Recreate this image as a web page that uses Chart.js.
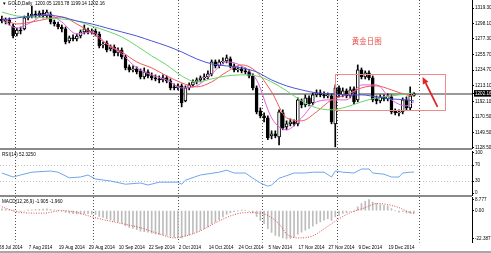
<!DOCTYPE html>
<html><head><meta charset="utf-8">
<script src="https://cdn.jsdelivr.net/npm/chart.js@4.4.1/dist/chart.umd.min.js"></script>
<style>
html,body{margin:0;padding:0;background:#fff;width:491px;height:253px;overflow:hidden;position:relative;font-family:"Liberation Sans",Arial,sans-serif;}
canvas{position:absolute;left:0;}
.sep{position:absolute;left:0;width:472px;background:#8a8a8a;z-index:5}
.hdr{position:absolute;font-size:4.6px;color:#000;white-space:pre;z-index:6;line-height:1;}
</style></head><body>
<canvas id="cMain" width="491" height="152" style="top:0px"></canvas>
<canvas id="cRsi" width="491" height="52" style="top:146px"></canvas>
<canvas id="cMacd" width="491" height="60" style="top:193px"></canvas>
<div class="sep" style="top:148px;height:2px"></div>
<div class="sep" style="top:195px;height:2px"></div>
<div style="position:absolute;left:0;top:251px;width:491px;height:2px;background:#a8a8a8"></div>
<div class="hdr" id="hMain" style="left:2px;top:2px"></div>
<div class="hdr" id="hRsi" style="left:2px;top:153px"></div>
<div class="hdr" id="hMacd" style="left:2px;top:200px"></div>
<script>
// ---------- DATA ----------
const dates = ['28 Jul 2014','29 Jul 2014','30 Jul 2014','31 Jul 2014',
'1 Aug 2014','4 Aug 2014','5 Aug 2014','6 Aug 2014','7 Aug 2014','8 Aug 2014',
'11 Aug 2014','12 Aug 2014','13 Aug 2014','14 Aug 2014','15 Aug 2014',
'18 Aug 2014','19 Aug 2014','20 Aug 2014','21 Aug 2014','22 Aug 2014',
'25 Aug 2014','26 Aug 2014','27 Aug 2014','28 Aug 2014','29 Aug 2014',
'1 Sep 2014','2 Sep 2014','3 Sep 2014','4 Sep 2014','5 Sep 2014',
'8 Sep 2014','9 Sep 2014','10 Sep 2014','11 Sep 2014','12 Sep 2014',
'15 Sep 2014','16 Sep 2014','17 Sep 2014','18 Sep 2014','19 Sep 2014',
'22 Sep 2014','23 Sep 2014','24 Sep 2014','25 Sep 2014','26 Sep 2014',
'29 Sep 2014','30 Sep 2014',
'1 Oct 2014','2 Oct 2014','3 Oct 2014',
'6 Oct 2014','7 Oct 2014','8 Oct 2014','9 Oct 2014','10 Oct 2014',
'13 Oct 2014','14 Oct 2014','15 Oct 2014','16 Oct 2014','17 Oct 2014',
'20 Oct 2014','21 Oct 2014','22 Oct 2014','23 Oct 2014','24 Oct 2014',
'27 Oct 2014','28 Oct 2014','29 Oct 2014','30 Oct 2014','31 Oct 2014',
'3 Nov 2014','4 Nov 2014','5 Nov 2014','6 Nov 2014','7 Nov 2014',
'10 Nov 2014','11 Nov 2014','12 Nov 2014','13 Nov 2014','14 Nov 2014',
'17 Nov 2014','18 Nov 2014','19 Nov 2014','20 Nov 2014','21 Nov 2014',
'24 Nov 2014','25 Nov 2014','26 Nov 2014','27 Nov 2014','28 Nov 2014',
'1 Dec 2014','2 Dec 2014','3 Dec 2014','4 Dec 2014','5 Dec 2014',
'8 Dec 2014','9 Dec 2014','10 Dec 2014','11 Dec 2014','12 Dec 2014',
'15 Dec 2014','16 Dec 2014','17 Dec 2014','18 Dec 2014','19 Dec 2014',
'22 Dec 2014','23 Dec 2014','24 Dec 2014','26 Dec 2014','29 Dec 2014','30 Dec 2014'];

const open = [1304.4,1301.7,1303.0,1294.8,1283.9,1289.4,1290.8,1305.8,1308.5,1311.2,
1309.8,1312.6,1308.5,1311.2,1300.3,1297.6,1293.5,1290.8,1274.4,1278.5,
1277.1,1281.2,1286.7,1289.4,1286.7,1288.0,1283.9,1269.0,1271.7,1263.5,
1266.2,1258.0,1262.1,1252.6,1239.0,1234.9,1236.2,1233.5,1225.3,1232.1,
1226.7,1224.0,1222.6,1221.2,1224.0,1219.9,1211.7,1210.3,1213.1,1192.6,
1210.3,1214.4,1218.5,1221.2,1224.0,1225.3,1229.4,1245.8,1240.3,1245.8,
1247.1,1249.9,1240.3,1234.9,1236.2,1233.5,1232.1,1226.7,1210.3,1179.0,
1172.2,1169.4,1144.9,1147.6,1143.5,1176.3,1157.2,1161.3,1164.0,1161.3,
1192.6,1187.2,1196.7,1189.9,1200.8,1203.5,1200.8,1199.4,1199.4,1161.3,
1210.3,1200.8,1206.3,1199.4,1209.0,1194.0,1234.9,1225.3,1230.8,1224.0,
1195.3,1192.6,1198.1,1195.3,1198.1,1179.0,1176.3,1177.6,1194.0,1183.1,1200.05];
const high = [1308.5,1305.8,1305.8,1297.6,1292.1,1293.5,1308.5,1312.6,1322.1,1315.3,
1315.3,1316.6,1316.6,1313.9,1303.0,1300.3,1296.2,1293.5,1281.2,1282.6,
1283.9,1289.4,1296.2,1292.1,1290.8,1290.8,1286.7,1273.0,1274.4,1269.0,
1269.0,1264.9,1264.9,1255.3,1241.7,1240.3,1239.0,1236.2,1237.6,1234.9,
1230.8,1228.1,1226.7,1228.1,1226.7,1222.6,1215.8,1215.8,1215.8,1213.1,
1217.2,1221.2,1224.0,1226.7,1229.4,1233.5,1248.5,1248.5,1248.5,1251.2,
1255.3,1252.6,1243.1,1239.0,1239.0,1237.6,1234.9,1229.4,1213.1,1183.1,
1176.3,1172.2,1151.7,1151.7,1180.4,1180.4,1165.4,1168.1,1166.7,1196.7,
1195.3,1200.8,1199.4,1203.5,1207.6,1207.6,1204.9,1203.5,1202.2,1214.4,
1213.1,1210.3,1209.0,1211.7,1211.7,1241.7,1237.6,1233.5,1233.5,1226.7,
1199.4,1200.8,1200.8,1202.2,1200.8,1181.7,1180.4,1196.7,1198.1,1211.7,1203.78];
const low = [1298.9,1297.6,1296.2,1278.5,1281.2,1283.9,1289.4,1303.0,1305.8,1305.8,
1307.1,1305.8,1305.8,1297.6,1294.8,1290.8,1286.7,1270.3,1271.7,1274.4,
1274.4,1278.5,1283.9,1283.9,1283.9,1281.2,1264.9,1264.9,1259.4,1260.8,
1254.0,1254.0,1249.9,1234.9,1232.1,1232.1,1229.4,1222.6,1222.6,1224.0,
1221.2,1219.9,1217.2,1218.5,1217.2,1207.6,1207.6,1207.6,1184.4,1191.3,
1207.6,1211.7,1215.8,1218.5,1221.2,1222.6,1226.7,1237.6,1237.6,1243.1,
1244.4,1237.6,1232.1,1232.1,1230.8,1229.4,1224.0,1207.6,1174.9,1169.4,
1164.0,1139.5,1140.8,1142.2,1132.6,1153.1,1153.1,1158.5,1158.5,1158.5,
1183.1,1184.4,1185.8,1187.2,1198.1,1198.1,1196.7,1196.7,1161.3,1129.9,
1198.1,1198.1,1196.7,1196.7,1188.5,1191.3,1222.6,1222.6,1221.2,1191.3,
1188.5,1189.9,1192.6,1192.6,1174.9,1173.5,1172.2,1174.9,1180.4,1180.4,1199.14];
const close = [1301.7,1303.0,1298.9,1281.2,1289.4,1288.0,1305.8,1308.5,1311.2,1309.8,
1312.6,1308.5,1313.9,1300.3,1297.6,1293.5,1290.8,1273.0,1278.5,1277.1,
1281.2,1286.7,1290.8,1286.7,1288.0,1283.9,1267.6,1270.3,1262.1,1266.2,
1258.0,1262.1,1252.6,1237.6,1234.9,1236.2,1232.1,1225.3,1232.1,1226.7,
1224.0,1222.6,1221.2,1224.0,1219.9,1210.3,1210.3,1213.1,1189.9,1210.3,
1214.4,1218.5,1221.2,1224.0,1225.3,1229.4,1245.8,1240.3,1245.8,1247.1,
1251.2,1240.3,1234.9,1236.2,1233.5,1232.1,1226.7,1210.3,1177.6,1172.2,
1169.4,1142.2,1147.6,1144.9,1177.6,1155.8,1161.3,1164.0,1161.3,1194.0,
1187.2,1196.7,1188.5,1200.8,1203.5,1200.8,1199.4,1200.8,1164.0,1210.3,
1200.8,1206.3,1199.4,1207.6,1191.3,1234.9,1225.3,1230.8,1224.0,1194.0,
1192.6,1198.1,1195.3,1199.4,1177.6,1176.3,1177.6,1194.0,1183.1,1199.4,1202.16];

// moving averages read at every 4th bar
const maIdx = [0,4,8,12,16,20,24,28,32,36,40,44,48,52,56,60,64,68,72,76,80,84,88,92,96,100,104,108,110];
const maBlue = [1303.0,1305.8,1308.5,1309.8,1307.1,1301.7,1297.6,1292.1,1286.7,1281.2,1274.4,1267.6,1259.4,1249.9,1243.1,1240.3,1237.6,1232.1,1221.2,1213.1,1207.6,1203.5,1202.2,1200.8,1200.8,1198.1,1195.3,1194.0,1192.6];
const maGreen = [1313.9,1308.5,1307.1,1305.8,1304.4,1301.7,1294.8,1288.0,1279.9,1267.6,1254.0,1241.7,1226.7,1218.5,1222.6,1226.7,1228.1,1226.7,1218.5,1206.3,1192.6,1183.1,1180.4,1184.4,1191.3,1196.7,1199.4,1202.2,1203.5];
const maRed = [1305.8,1297.6,1300.3,1304.4,1307.1,1297.6,1285.3,1270.3,1259.4,1245.8,1237.6,1226.7,1217.2,1211.7,1218.5,1232.1,1241.7,1232.1,1204.9,1169.4,1165.4,1177.6,1194.0,1200.8,1210.3,1213.1,1207.6,1200.8,1199.4];
const maMagenta = [1303.0,1292.1,1300.3,1311.2,1300.3,1283.9,1286.7,1270.3,1256.7,1237.6,1228.1,1221.2,1210.3,1213.1,1229.4,1245.8,1240.3,1221.2,1169.4,1153.1,1169.4,1191.3,1194.0,1194.0,1214.4,1214.4,1194.0,1185.8,1191.3];

// RSI(14)
const rsiIdx = [0,3,5,8,13,15,18,21,23,25,29,33,37,39,42,47,48,49,53,58,60,62,65,67,69,71,72,74,75,78,81,83,86,88,89,91,94,96,98,99,102,104,106,107,109,110];
const rsiVal = [50,40,45,52,55,52,38,40,45,35,30,22,25,20,27,27,22,32,45,52,57,50,50,37,25,17,20,37,40,50,50,52,52,40,55,52,50,60,60,50,47,40,40,50,52,52.325];

// MACD(12,26,9) main per bar + signal
const macd = [1.5,1.2,0.8,0.2,-0.6,-0.8,-0.3,0.2,0.6,0.9,
1.1,1.2,1.4,1.0,0.6,0.1,-0.4,-1.5,-2.0,-2.4,
-2.6,-2.5,-2.3,-2.4,-2.8,-3.2,-4.5,-5.4,-6.6,-7.3,
-8.4,-9.0,-10.0,-11.8,-13.2,-14.1,-15.0,-16.2,-16.6,-17.1,
-17.8,-18.4,-18.9,-19.2,-19.6,-20.4,-21.0,-21.2,-21.6,-20.2,
-19.2,-18.0,-16.8,-15.5,-14.2,-12.8,-10.6,-9.0,-7.2,-5.0,
-3.0,-1.8,-0.8,-0.2,0.2,0.0,-0.4,-1.6,-4.6,-7.8,
-10.4,-14.2,-17.2,-19.6,-20.4,-21.6,-22.387,-21.9,-21.0,-18.6,
-17.0,-15.4,-14.0,-12.2,-10.6,-9.0,-7.6,-6.4,-7.8,-5.0,
-3.8,-2.2,-1.6,-0.4,-0.8,3.0,5.6,7.4,8.777,6.8,
5.6,4.8,4.2,3.8,1.6,0.0,-1.2,-0.9,-1.8,-2.0,-1.905];
const signalIdx = [0,5,11,16,19,23,26,31,37,42,46,49,53,57,62,65,69,74,76,79,83,86,90,93,97,100,103,106,109,110];
const signalVal = [3.0,-1.5,-2.0,0.0,-0.8,-4.0,-6.4,-9.6,-13.6,-18.4,-21.6,-20.0,-16.0,-9.6,-3.2,-1.6,-2.0,-10.4,-18.4,-21.6,-20.0,-14.4,-6.4,-1.6,2.4,5.6,4.8,2.4,-1.6,-1.96];

// axis tick labels
const tickLabels = ['28 Jul 2014','7 Aug 2014','19 Aug 2014','29 Aug 2014','10 Sep 2014','22 Sep 2014','2 Oct 2014','14 Oct 2014','24 Oct 2014','5 Nov 2014','17 Nov 2014','27 Nov 2014','9 Dec 2014','19 Dec 2014'];
const priceTicks = [1319.30,1298.10,1277.30,1255.70,1234.70,1213.10,1192.10,1170.50,1149.50,1128.50];
const rsiTicks = [100,70,30,0];
const rsiLevels = [70,30];
const macdTicks = [8.777,0,-22.387];
const macdTickLabels = ['8.777','0.00','-22.387'];
// vertical grid positions (bar index units) and annotation (data units)
const gridIdx = [3.49,24.37,46.96,69.49,89.36,111.31];
const annoBox = [88.8,118.2,1229.4,1180.4];
const annoText = ['黄金日图',97.4,1274.4];
const annoArrow = [116.3,1184.4,112.3,1225.3];

// ---------- CHART ----------
const FONT = '"Liberation Sans", Arial, sans-serif';
const N = dates.length;
const lastClose = close[N-1];
const labels = dates.concat(Array.from({length:15},(_,i)=>' '.repeat(i+1)));

document.getElementById('hMain').textContent = '\u25BC GOLD,Daily  ' + open[N-1].toFixed(2)+' '+high[N-1].toFixed(2)+' '+low[N-1].toFixed(2)+' '+close[N-1].toFixed(2);
document.getElementById('hRsi').textContent = 'RSI(14) ' + rsiVal[rsiVal.length-1].toFixed(4);
document.getElementById('hMacd').textContent = 'MACD(12,26,9) ' + macd[N-1].toFixed(3) + ' ' + signalVal[signalVal.length-1].toFixed(3);

const overlays = {
  cMain: { hLines:[{value:lastClose,color:'#9a9a9a',width:2,dash:[]}], anno:true },
  cRsi: { hLines: rsiLevels.map(v=>({value:v,color:'#c4c4c4',width:1,dash:[1,2]})) },
  cMacd: { hLines: [] }
};
const overlayPlugin = {
  id:'overlayPlugin',
  beforeDatasetsDraw(chart){
    const o = overlays[chart.canvas.id]; if(!o) return;
    const {ctx, chartArea:a} = chart; const xs = chart.scales.x, ys = chart.scales.y;
    ctx.save();
    gridIdx.forEach(g=>{
      const px = Math.round(xs.getPixelForValue(g))+0.5;
      ctx.strokeStyle='#505050'; ctx.lineWidth=1; ctx.setLineDash([1,2]);
      ctx.beginPath(); ctx.moveTo(px,a.top); ctx.lineTo(px,a.bottom); ctx.stroke();
    });
    o.hLines.forEach(h=>{
      let py = ys.getPixelForValue(h.value);
      py = h.width%2 ? Math.round(py)+0.5 : Math.round(py);
      ctx.strokeStyle=h.color; ctx.lineWidth=h.width; ctx.setLineDash(h.dash);
      ctx.beginPath(); ctx.moveTo(a.left,py); ctx.lineTo(a.right,py); ctx.stroke();
    });
    ctx.restore();
  },
  afterDatasetsDraw(chart){
    const o = overlays[chart.canvas.id]; if(!o || !o.anno) return;
    const {ctx} = chart; const xs = chart.scales.x, ys = chart.scales.y;
    ctx.save();
    const x0 = Math.round(xs.getPixelForValue(annoBox[0]))+0.5, x1 = Math.round(xs.getPixelForValue(annoBox[1]))+0.5;
    const y0 = Math.round(ys.getPixelForValue(annoBox[2]))+0.5, y1 = Math.round(ys.getPixelForValue(annoBox[3]))+0.5;
    ctx.strokeStyle='#f08a8a'; ctx.lineWidth=1; ctx.setLineDash([]);
    ctx.strokeRect(x0,y0,x1-x0,y1-y0);
    ctx.fillStyle='#e8504a'; ctx.font='7.5px "Noto Sans CJK SC"'; ctx.textAlign='center'; ctx.textBaseline='middle';
    ctx.fillText(annoText[0], xs.getPixelForValue(annoText[1]), ys.getPixelForValue(annoText[2]));
    const ax0 = xs.getPixelForValue(annoArrow[0]), ay0 = ys.getPixelForValue(annoArrow[1]);
    const ax1 = xs.getPixelForValue(annoArrow[2]), ay1 = ys.getPixelForValue(annoArrow[3]);
    const ang = Math.atan2(ay1-ay0, ax1-ax0), head=7, hw=3.2;
    const bx = ax1 - head*Math.cos(ang), by = ay1 - head*Math.sin(ang);
    ctx.strokeStyle='#e02424'; ctx.fillStyle='#e02424'; ctx.lineWidth=1.8;
    ctx.beginPath(); ctx.moveTo(ax0,ay0); ctx.lineTo(bx,by); ctx.stroke();
    ctx.beginPath(); ctx.moveTo(ax1,ay1);
    ctx.lineTo(bx+hw*Math.sin(ang), by-hw*Math.cos(ang));
    ctx.lineTo(bx-hw*Math.sin(ang), by+hw*Math.cos(ang));
    ctx.closePath(); ctx.fill();
    ctx.restore();
  }
};
Chart.register(overlayPlugin);

function xAxis(show){
  return {
    type:'category', offset:true, display:show,
    grid:{display:false, drawTicks:false}, border:{display:false},
    afterBuildTicks:s=>{ if(show){ s.ticks = tickLabels.map(l=>({value:labels.indexOf(l)})); } },
    ticks:{autoSkip:false, maxRotation:0, minRotation:0, align:'start', labelOffset:-3, padding:2,
      font:{size:4.6, family:FONT}, color:'#000',
      callback:(v)=> labels[v]},
    afterFit:s=>{ s.paddingLeft=0; s.paddingRight=0; }
  };
}
function yAxis(min,max,vals,fmt,extra){
  return {
    position:'right', min:min, max:max,
    afterBuildTicks:s=>{ s.ticks = vals.map(v=>({value:v})); },
    afterFit:s=>{ s.width=19; s.paddingTop=0; s.paddingBottom=0; },
    grid:{drawOnChartArea:false, drawTicks:true, tickLength:2, tickColor:'#000', color:'#000'},
    border:{display:true, color:'#000', width:1},
    ticks:Object.assign({autoSkip:false, padding:1, font:{size:4.6, family:FONT}, color:'#000', callback:fmt}, extra||{})
  };
}
const base = {
  responsive:false, animation:false, devicePixelRatio:1,
  plugins:{legend:{display:false}, tooltip:{enabled:false}}
};
function maSet(vals,color){
  return {type:'line', data:maIdx.map((k,i)=>({x:dates[k], y:vals[i]})), borderColor:color, borderWidth:1,
    pointRadius:0, cubicInterpolationMode:'monotone', order:-1};
}

new Chart(document.getElementById('cMain'), {
  type:'bar',
  data:{labels:labels, datasets:[
    maSet(maBlue,'#4a55d8'),
    maSet(maGreen,'#6ad46a'),
    maSet(maRed,'#f05858'),
    maSet(maMagenta,'#e060e0'),
    {label:'wick', data:dates.map((d,i)=>[low[i],high[i]]), barThickness:1, backgroundColor:'#000', borderWidth:0, grouped:false, order:2},
    {label:'body', data:dates.map((d,i)=>[open[i],close[i]]), barThickness:3,
      backgroundColor:dates.map((d,i)=> close[i]>=open[i] ? '#ffffff' : '#000000'),
      borderColor:'#000', borderWidth:1, borderSkipped:false, grouped:false, order:1}
  ]},
  options:Object.assign({}, base, {
    layout:{padding:{top:0,bottom:4,left:0,right:0}},
    scales:{
      x:xAxis(false),
      y:yAxis(1128.3,1330.3, priceTicks.concat([lastClose]), v=>Number(v).toFixed(2), {
        color:c=> (c.tick && c.tick.value===lastClose) ? '#fff' : '#000',
        showLabelBackdrop:c=> !!(c.tick && c.tick.value===lastClose),
        backdropColor:'#000', backdropPadding:{top:1,bottom:0,left:1,right:3}
      })
    }
  })
});

new Chart(document.getElementById('cRsi'), {
  type:'line',
  data:{labels:labels, datasets:[
    {data:rsiIdx.map((k,i)=>({x:dates[k], y:rsiVal[i]})), borderColor:'#6ea6ea', borderWidth:1, pointRadius:0, tension:0}
  ]},
  options:Object.assign({}, base, {
    layout:{padding:{top:5,bottom:3,left:0,right:0}},
    scales:{ x:xAxis(false), y:yAxis(-5,105, rsiTicks, v=>String(v)) }
  })
});

new Chart(document.getElementById('cMacd'), {
  type:'bar',
  data:{labels:labels, datasets:[
    {type:'line', data:signalIdx.map((k,i)=>({x:dates[k], y:signalVal[i]})), borderColor:'#e04848', borderWidth:1,
      borderDash:[1,1.5], pointRadius:0, cubicInterpolationMode:'monotone', order:-1},
    {data:macd, barThickness:1, backgroundColor:'#bcbcbc', borderWidth:0, order:1}
  ]},
  options:Object.assign({}, base, {
    layout:{padding:{top:4,bottom:1,left:0,right:0}},
    scales:{ x:xAxis(true), y:yAxis(-25.2,10.8, macdTicks, v=>macdTickLabels[macdTicks.indexOf(v)]) }
  })
});
</script>
</body></html>
